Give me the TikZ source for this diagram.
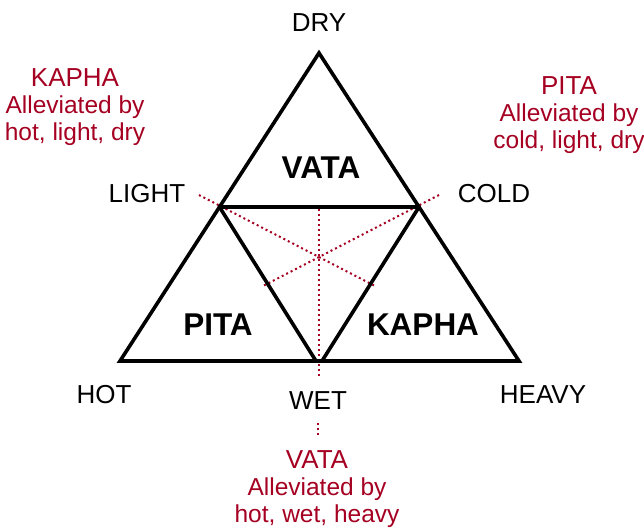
\documentclass[tikz,border=0pt]{standalone}
\usepackage{fontspec}
\setmainfont{Liberation Sans}
\usepackage{xcolor}
\usepackage{tikz}
\definecolor{cureRed}{HTML}{A50021}

\begin{document}
\begin{tikzpicture}[x=1pt,y=-1pt,
    side/.style={line width=3.6pt, line cap=round},
    median/.style={cureRed, line width=2pt, dash pattern=on 2pt off 3pt},
    lbl/.style={anchor=base, inner sep=0pt, font=\fontsize{26}{28}\selectfont},
    dosha/.style={lbl, font=\fontsize{31.5}{33}\selectfont\bfseries},
    cure/.style={lbl, text=cureRed, font=\fontsize{24.5}{27}\selectfont}]
    \useasboundingbox (0,0) rectangle (644,529);

    % corners of the big triangle and the side midpoints
    \coordinate (top) at (319,53);
    \coordinate (bl) at (120,361);
    \coordinate (br) at (519,361);
    \coordinate (ml) at (219.5,207);
    \coordinate (mr) at (419,207);
    \coordinate (mbl) at (316,361);
    \coordinate (mbr) at (322,361);

    % ends of the dotted lines
    \coordinate (lightEnd) at (199,195);
    \coordinate (coldEnd) at (439,195);
    \coordinate (lightStop) at (375,286);
    \coordinate (coldStop) at (263,286);
    \coordinate (wetTop) at (319,209);
    \coordinate (wetEnd) at (319,378);
    \coordinate (tickTop) at (318,423);
    \coordinate (tickEnd) at (318,435);

    \draw[median] (lightEnd) -- (lightStop);
    \draw[median] (coldEnd) -- (coldStop);
    \draw[median] (wetTop) -- (wetEnd);
    \draw[median] (tickTop) -- (tickEnd);

    \draw[side, line join=miter] (top) -- (bl) -- (br) -- cycle;
    \draw[side] (ml) -- (mr);
    \draw[side] (ml) -- (mbl);
    \draw[side] (mr) -- (mbr);

    \node[lbl] (dry) at (319,32) {DRY};
    \node[lbl] (light) at (147,203) {LIGHT};
    \node[lbl] (cold) at (494,203) {COLD};
    \node[lbl] (hot) at (104,403) {HOT};
    \node[lbl] (wet) at (318,409) {WET};
    \node[lbl] (heavy) at (543,403) {HEAVY};

    \node[dosha] (vata) at (321,179) {VATA};
    \node[dosha] (pita) at (218,335) {PITA};
    \node[dosha] (kapha) at (423,335) {KAPHA};

    \node[cure] (kaphaCure) at (75,87)
        {\begin{tabular}[t]{@{}c@{}}{\fontsize{26}{28}\selectfont KAPHA}\\Alleviated by\\hot, light, dry\end{tabular}};
    \node[cure] (pitaCure) at (569,95)
        {\begin{tabular}[t]{@{}c@{}}{\fontsize{26}{28}\selectfont PITA}\\Alleviated by\\cold, light, dry\end{tabular}};
    \node[cure] (vataCure) at (317,468)
        {\begin{tabular}[t]{@{}c@{}}{\fontsize{26}{28}\selectfont VATA}\\Alleviated by\\hot, wet, heavy\end{tabular}};
\end{tikzpicture}
\end{document}
